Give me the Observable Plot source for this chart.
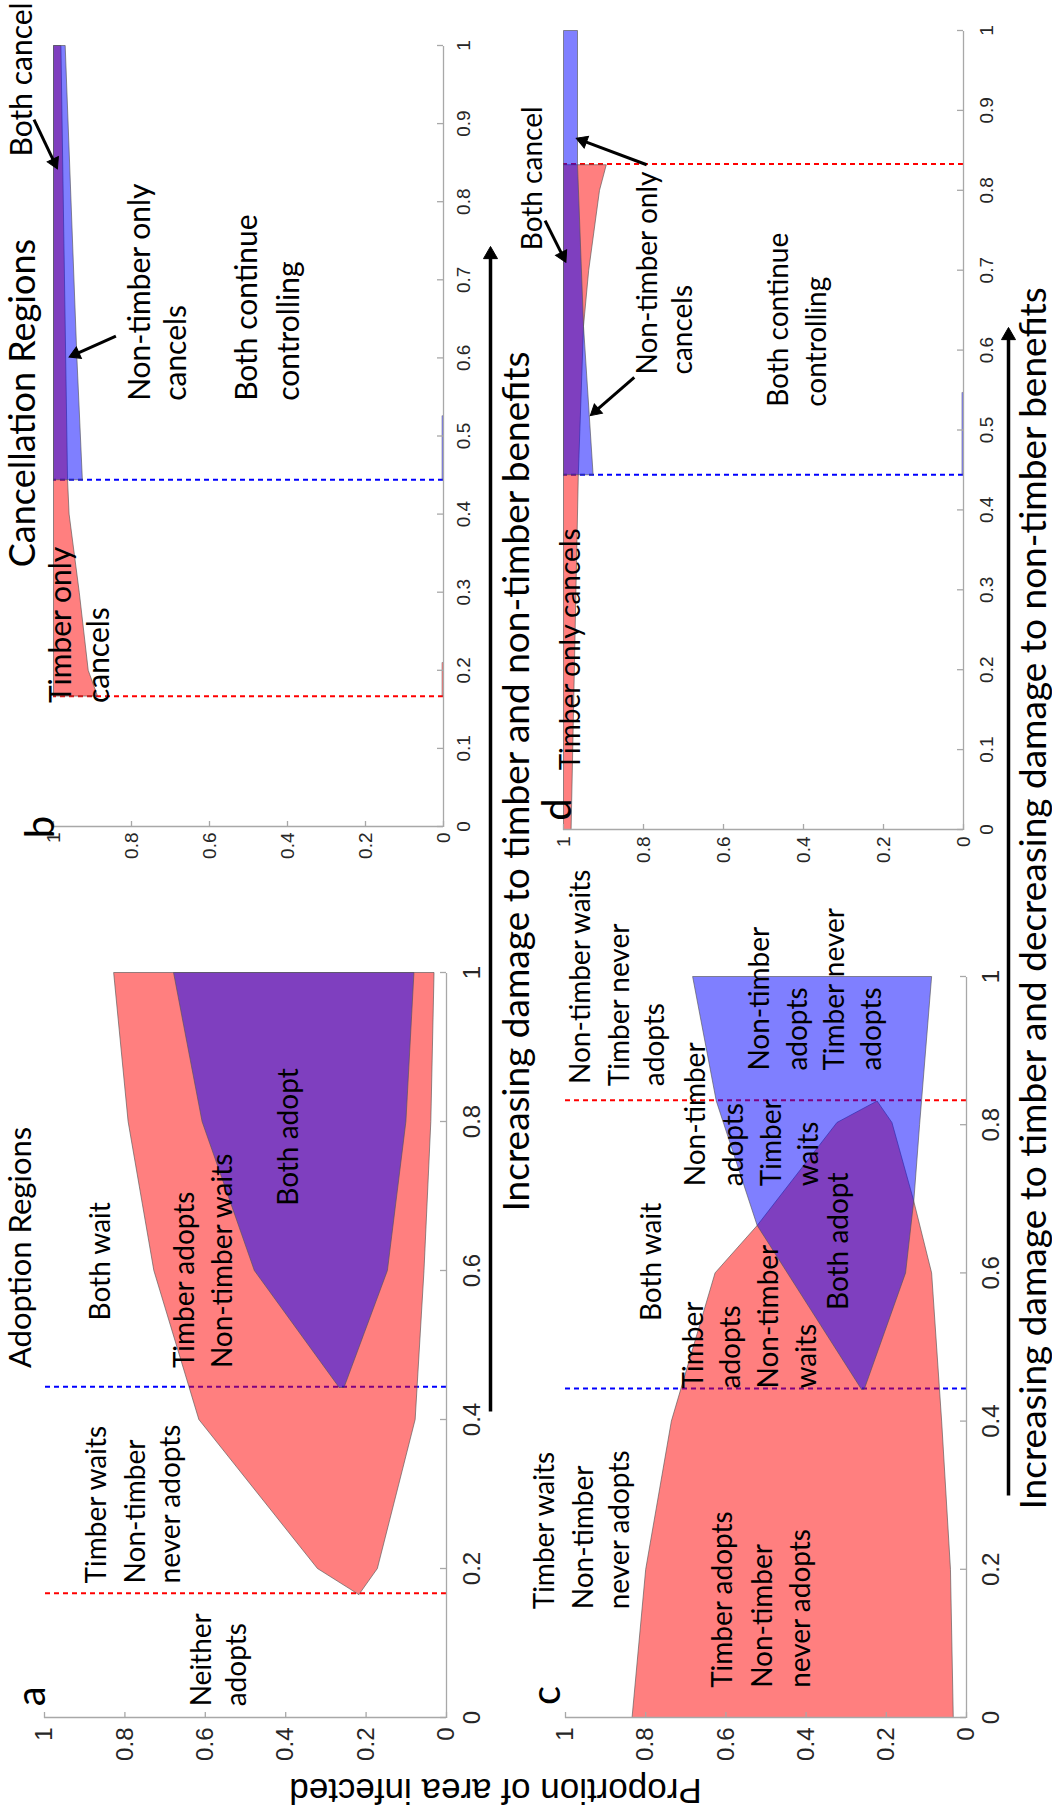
<!DOCTYPE html>
<html><head><meta charset="utf-8">
<script src="https://cdn.jsdelivr.net/npm/d3@7"></script>
<script src="https://cdn.jsdelivr.net/npm/@observablehq/plot@0.6"></script>
<style>
html,body{margin:0;padding:0;background:#fff;width:1052px;height:1809px;overflow:hidden}
#fig{position:absolute;left:0;top:0;width:1809px;height:1052px;transform-origin:0 0;transform:translate(0px,1809px) rotate(-90deg);}
.panel{position:absolute}
</style></head><body><div id="fig"></div>
<script>
// ---------- tick values ----------
const ticksFifth = [0, 0.2, 0.4, 0.6, 0.8, 1];
const ticksTenth = [0, 0.1, 0.2, 0.3, 0.4, 0.5, 0.6, 0.7, 0.8, 0.9, 1];

// ---------- thresholds (dashed lines) ----------
const dashesA = [{p: 1/6, color: "#ff0000"}, {p: 0.444, color: "#0000ff"}];
const dashesB = [{p: 1/6, color: "#ff0000"}, {p: 0.444, color: "#0000ff"}];
const dashesC = [{p: 0.833, color: "#ff0000"}, {p: 0.444, color: "#0000ff"}];
const dashesD = [{p: 0.833, color: "#ff0000"}, {p: 0.444, color: "#0000ff"}];

// ---------- regions: [damage, proportion infected] ----------
const aTimberAdopts = [[0.165,0.218],[0.2,0.321],[0.4,0.616],[0.6,0.728],[0.8,0.792],[1,0.828],[1,0.031],[0.8,0.039],[0.6,0.056],[0.4,0.078],[0.2,0.172]];
const aNonTimberAdopts = [[0.443,0.267],[0.6,0.478],[0.8,0.608],[1,0.679],[1,0.081],[0.8,0.101],[0.6,0.147],[0.443,0.255]];

const cTimberAdopts = [[0,0.834],[0.2,0.80],[0.4,0.736],[0.6,0.627],[0.664,0.522],[0.803,0.323],[0.832,0.223],[0.803,0.186],[0.70,0.133],[0.6,0.087],[0.4,0.062],[0.2,0.04],[0,0.033]];
const cNonTimberAdopts = [[0.443,0.262],[0.664,0.522],[0.832,0.624],[1,0.683],[1,0.087],[0.8,0.117],[0.70,0.131],[0.6,0.152],[0.443,0.255]];

const bTimberCancels = [[0.167,1],[1,1],[1,0.981],[0.444,0.964],[0.4,0.96],[0.3,0.934],[0.2,0.911],[0.167,0.887]];
const bNonTimberCancels = [[0.444,1],[1,1],[1,0.97],[0.6,0.94],[0.444,0.926]];
const bTimberSliver = [[0.167,0],[0.21,0],[0.21,0.004],[0.167,0.004]];
const bNonTimberSliver = [[0.444,0],[0.526,0],[0.526,0.004],[0.444,0.004]];

const dTimberCancels = [[0,1],[0.832,1],[0.832,0.893],[0.8,0.91],[0.7,0.937],[0.63,0.95],[0.444,0.963],[0,0.981]];
const dNonTimberCancels = [[0.444,1],[1,1],[1,0.965],[0.832,0.965],[0.63,0.95],[0.444,0.926]];
const dNonTimberSliver = [[0.444,0],[0.547,0],[0.547,0.004],[0.444,0.004]];

// ---------- annotation texts: [text, damage, proportion, size] ----------
const aLabels = [
  ["a",0.015,0.998,40],["Adoption Regions",0.469,1.034,31],["Both wait",0.533,0.837,28],
  ["Timber adopts",0.469,0.629,28],["Non-timber waits",0.469,0.533,28],
  ["Timber waits",0.180,0.846,28],["Non-timber",0.180,0.751,28],["never adopts",0.180,0.662,28],
  ["Neither",0.015,0.586,28],["adopts",0.015,0.498,28],["Both adopt",0.687,0.369,28]
];
const cLabels = [
  ["c",0.017,1.013,40],
  ["Timber waits",0.146,1.028,28],["Non-timber",0.146,0.931,28],["never adopts",0.146,0.842,28],
  ["Timber adopts",0.040,0.584,28],["Non-timber",0.040,0.484,28],["never adopts",0.040,0.391,28],
  ["Both wait",0.535,0.763,28],
  ["Timber",0.444,0.657,28],["adopts",0.444,0.564,28],["Non-timber",0.444,0.469,28],["waits",0.444,0.376,28],
  ["Non-timber",0.717,0.653,28],["adopts",0.717,0.558,28],["Timber",0.717,0.463,28],["waits",0.717,0.370,28],
  ["Both adopt",0.550,0.296,28],
  ["Non-timber waits",0.855,0.938,28],["Timber never",0.852,0.842,28],["adopts",0.852,0.755,28],
  ["Non-timber",0.873,0.493,28],["adopts",0.873,0.397,28],["Timber never",0.873,0.306,28],["adopts",0.873,0.213,28]
];
const bLabels = [
  ["b",-0.015,1.0,40],["Cancellation Regions",0.332,1.048,36],["Both cancel",0.858,1.056,30],
  ["Non-timber only",0.545,0.752,30],["cancels",0.545,0.661,30],
  ["Both continue",0.545,0.477,30],["controlling",0.545,0.370,30],
  ["Timber only",0.158,0.956,30],["cancels",0.158,0.858,30]
];
const dLabels = [
  ["d",0.011,0.981,40],["Both cancel",0.725,1.053,28],
  ["Non-timber only",0.5695,0.766,28],["cancels",0.5695,0.679,28],
  ["Both continue",0.529,0.440,28],["controlling",0.529,0.343,28],
  ["Timber only cancels",0.074,0.959,28]
];

// ---------- pointer arrows (tail -> head) ----------
const bArrows = [[0.905,1.05,0.842,0.99],[0.628,0.84,0.601,0.96]];
const dArrows = [[0.762,1.046,0.710,0.994],[0.832,0.792,0.865,0.968],[0.566,0.823,0.518,0.933]];

// ---------- figure-level annotations (landscape pixels) ----------
const bigArrows = [[397,490,1562,490],[313,1008,1481,1008]];
const bigLabels = [
  ["Increasing damage to timber and non-timber benefits",597,528],
  ["Increasing damage to timber and decreasing damage to non-timber benefits",299,1045]
];
const yAxisLabel = ["Proportion of area infected",30,495];

// ---------- layout ----------
const layout = {
  a: {left:0, top:0, width:900, height:520, mL:91, mR:64, mT:44, mB:74, tick:24, xPad:16, yPad:10},
  c: {left:0, top:520, width:900, height:532, mL:91, mR:68, mT:45, mB:86, tick:24, xPad:15, yPad:10},
  b: {left:900, top:0, width:909, height:520, mL:82, mR:46, mT:53, mB:77, tick:19, xPad:13, yPad:6},
  d: {left:900, top:520, width:909, height:532, mL:79, mR:31, mT:43, mB:89, tick:19, xPad:16, yPad:7}
};
const RED = "#ff0000", BLUE = "#0000ff", AXIS = "#a8a8a8", INK = "#262626";
const LABEL_FONT = "Lato, 'Open Sans', sans-serif";
const fmt = d => String(d);
const closed = poly => [...poly, poly[0]];

// arrow heads as filled triangles: line ends at triangle centroid
function arrowParts(arrows, kx, ky, r) {
  const tip = 2 * Math.sqrt(r * r * Math.PI / (3 * Math.sqrt(3)));
  return arrows.map(([x1, y1, x2, y2]) => {
    const dx = (x2 - x1) * kx, dy = (y2 - y1) * ky; // screen px (ky negative when data y points up)
    const len = Math.hypot(dx, dy), ux = dx / len, uy = dy / len;
    const cx = x2 - ux * tip / kx, cy = y2 - uy * tip / ky;
    return {x1, y1, cx, cy, rot: Math.atan2(ux, -uy) * 180 / Math.PI};
  });
}
function arrowMarks(parts, width, r) {
  return [
    Plot.link(parts, {x1: "x1", y1: "y1", x2: "cx", y2: "cy", stroke: "black", strokeWidth: width}),
    Plot.dot(parts, {x: "cx", y: "cy", rotate: "rot", symbol: "triangle", r, fill: "black", stroke: "black", strokeWidth: 1})
  ];
}

function panel(L, xTicks, dashes, regions, labels, arrows) {
  const innerW = L.width - L.mL - L.mR, innerH = L.height - L.mT - L.mB;
  const tx = 6 / innerH, ty = 6 / innerW;
  const marks = [];
  for (const d of dashes) marks.push(Plot.ruleX([d.p], {y1: 0, y2: 1, stroke: d.color, strokeWidth: 2, strokeDasharray: "5,4"}));
  for (const r of regions) marks.push(Plot.line(closed(r.pts), {x: d => d[0], y: d => d[1], fill: r.color, fillOpacity: 0.5, stroke: "#555", strokeWidth: r.sw ?? 0.8, strokeOpacity: 0.8}));
  marks.push(
    Plot.ruleY([0], {x1: 0, x2: 1, stroke: AXIS, strokeWidth: 1.3}),
    Plot.ruleX([0], {y1: 0, y2: 1, stroke: AXIS, strokeWidth: 1.3}),
    Plot.ruleX(xTicks, {y1: 0, y2: tx, stroke: AXIS, strokeWidth: 1.3}),
    Plot.ruleY(ticksFifth, {x1: 0, x2: ty, stroke: AXIS, strokeWidth: 1.3}),
    Plot.axisX(xTicks, {tickSize: 0, tickPadding: L.xPad, tickFormat: fmt, fontSize: L.tick, label: null, fill: INK}),
    Plot.axisY(ticksFifth, {tickSize: 0, tickPadding: L.yPad, tickFormat: fmt, fontSize: L.tick, label: null, fill: INK}),
    Plot.text(labels, {x: d => d[1], y: d => d[2], text: d => d[0], fontSize: d => d[3], textAnchor: "start", lineAnchor: "bottom", fontFamily: LABEL_FONT, fill: "black"})
  );
  if (arrows) marks.push(...arrowMarks(arrowParts(arrows, innerW, -innerH, 4.6), 3, 4.6));
  const svg = Plot.plot({
    width: L.width, height: L.height,
    marginLeft: L.mL, marginRight: L.mR, marginTop: L.mT, marginBottom: L.mB,
    x: {domain: [0, 1], label: null}, y: {domain: [0, 1], label: null},
    style: {background: "none", overflow: "visible", maxWidth: "none", fontFamily: "'Liberation Sans', Arial, sans-serif"},
    marks
  });
  const div = document.createElement("div");
  div.className = "panel";
  Object.assign(div.style, {left: L.left + "px", top: L.top + "px", width: L.width + "px", height: L.height + "px"});
  div.appendChild(svg);
  document.getElementById("fig").appendChild(div);
}

panel(layout.a, ticksFifth, dashesA,
  [{pts: aTimberAdopts, color: RED}, {pts: aNonTimberAdopts, color: BLUE}], aLabels, null);
panel(layout.c, ticksFifth, dashesC,
  [{pts: cTimberAdopts, color: RED}, {pts: cNonTimberAdopts, color: BLUE}], cLabels, null);
panel(layout.b, ticksTenth, dashesB,
  [{pts: bTimberCancels, color: RED}, {pts: bNonTimberCancels, color: BLUE},
   {pts: bTimberSliver, color: RED, sw: 0.5}, {pts: bNonTimberSliver, color: BLUE, sw: 0.5}], bLabels, bArrows);
panel(layout.d, ticksTenth, dashesD,
  [{pts: dTimberCancels, color: RED}, {pts: dNonTimberCancels, color: BLUE},
   {pts: dNonTimberSliver, color: BLUE, sw: 0.5}], dLabels, dArrows);

// overlay with figure-level arrows and labels
const overlay = Plot.plot({
  width: 1809, height: 1052, margin: 0,
  x: {domain: [0, 1809], range: [0, 1809], axis: null},
  y: {domain: [0, 1052], range: [0, 1052], axis: null},
  style: {background: "none", overflow: "visible", maxWidth: "none"},
  marks: [
    ...arrowMarks(arrowParts(bigArrows, 1, 1, 5.2), 3.5, 5.2),
    Plot.text(bigLabels, {x: d => d[1], y: d => d[2], text: d => d[0], fontSize: 37, textAnchor: "start", lineAnchor: "bottom", fontFamily: LABEL_FONT, fill: "black"}),
    Plot.text([yAxisLabel], {x: d => d[1], y: d => d[2], text: d => d[0], rotate: -90, fontSize: 35, textAnchor: "middle", lineAnchor: "bottom", fontFamily: "'Liberation Sans', Arial, sans-serif", fill: "black"})
  ]
});
const od = document.createElement("div");
od.className = "panel";
Object.assign(od.style, {left: "0px", top: "0px", width: "1809px", height: "1052px"});
od.appendChild(overlay);
document.getElementById("fig").appendChild(od);
</script></body></html>
